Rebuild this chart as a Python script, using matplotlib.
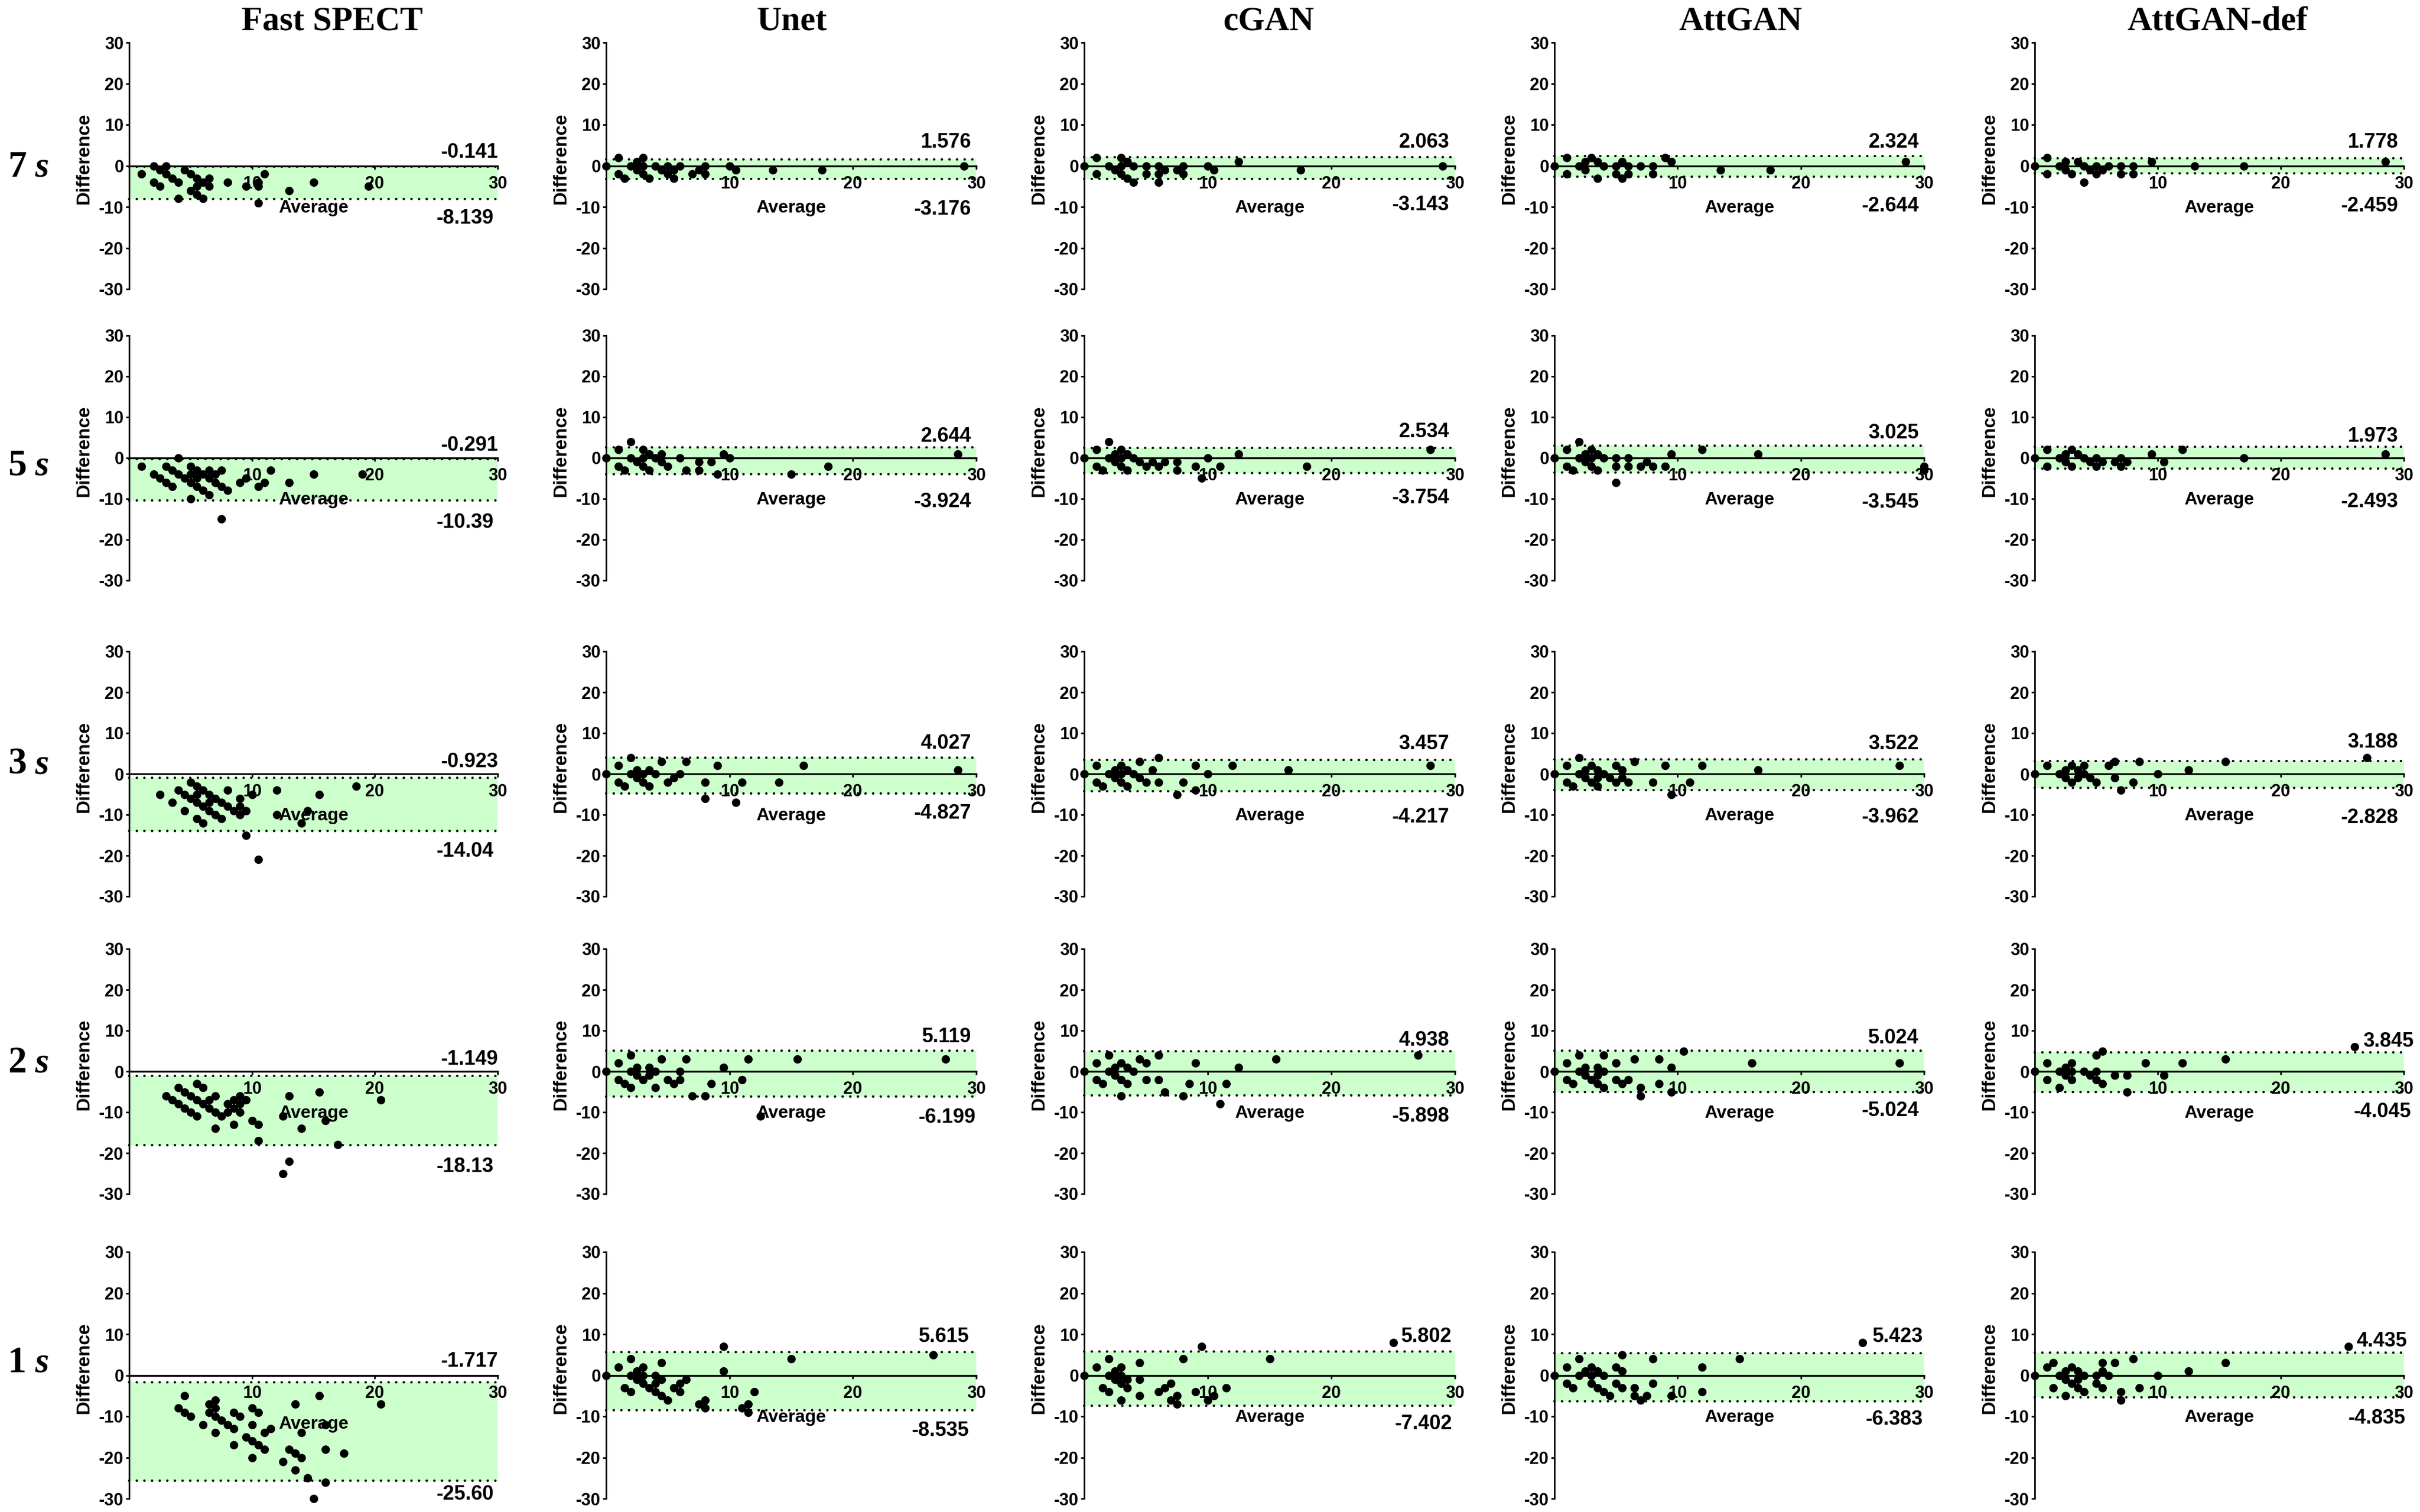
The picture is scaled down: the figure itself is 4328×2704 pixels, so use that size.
import matplotlib
matplotlib.use("Agg")
import matplotlib.pyplot as plt

plt.rcParams['font.family'] = ['Liberation Sans', 'DejaVu Sans']

methods = ['Fast SPECT', 'Unet', 'cGAN', 'AttGAN', 'AttGAN-def']
times = ['7', '5', '3', '2', '1']
x_ticks = [10, 20, 30]
y_ticks = [30, 20, 10, 0, -10, -20, -30]

# ---- limits of agreement as printed ----
upper_text = [['-0.141', '1.576', '2.063', '2.324', '1.778'],
              ['-0.291', '2.644', '2.534', '3.025', '1.973'],
              ['-0.923', '4.027', '3.457', '3.522', '3.188'],
              ['-1.149', '5.119', '4.938', '5.024', '3.845'],
              ['-1.717', '5.615', '5.802', '5.423', '4.435']]
lower_text = [['-8.139', '-3.176', '-3.143', '-2.644', '-2.459'],
              ['-10.39', '-3.924', '-3.754', '-3.545', '-2.493'],
              ['-14.04', '-4.827', '-4.217', '-3.962', '-2.828'],
              ['-18.13', '-6.199', '-5.898', '-5.024', '-4.045'],
              ['-25.60', '-8.535', '-7.402', '-6.383', '-4.835']]
# ---- band edges as drawn ----
band_top = [[-0.141, 1.576, 2.063, 2.324, 1.9],
            [-0.291, 2.644, 2.534, 3.025, 2.7],
            [-0.923, 4.027, 3.457, 3.522, 3.2],
            [-1.149, 5.119, 4.938, 5.024, 4.6],
            [-1.717, 5.615, 5.802, 5.423, 5.45]]
band_bottom = [[-8.139, -3.176, -3.143, -2.644, -1.85],
               [-10.39, -3.924, -3.754, -3.545, -2.56],
               [-14.04, -4.827, -4.217, -3.962, -3.4],
               [-18.13, -6.199, -5.898, -5.024, -5.0],
               [-25.60, -8.535, -7.402, -6.383, -5.4]]

# ---- Fast SPECT ----
fast_7_x = [1,2,2,2.5,2.5,3,3,3.5,4,4,4.5,5,5,5.5,5.5,5.5,6,6,6.5,6.5,8,9.5,10.5,10.5,10.5,11,13,15,19.5]
fast_7_y = [-2,0,-4,-1,-5,0,-2,-3,-4,-8,-1,-2,-6,-3,-5,-7,-4,-8,-3,-5,-4,-5,-5,-9,-4,-2,-6,-4,-5]
fast_5_x = [1,2,2.5,3,3,3.5,3.5,4,4,4.5,5,5,5,5,5.5,5.5,5.5,6,6,6.5,6.5,6.5,7,7,7.5,7.5,7.5,8,9,9.5,10.5,11,11.5,13,15,19]
fast_5_y = [-2,-4,-5,-2,-6,-3,-7,0,-4,-5,-2,-4,-6,-10,-3,-5,-7,-4,-8,-3,-5,-9,-4,-6,-3,-7,-15,-8,-6,-5,-7,-6,-3,-6,-4,-4]
fast_3_x = [2.5,3.5,4,4.5,4.5,5,5,5.5,5.5,5.5,5.5,6,6,6,6.5,6.5,6.5,7,7,7.5,7.5,8,8,8.5,9,9,9,9.5,9.5,10,10.5,12,12,14,14.5,15.5,18.5]
fast_3_y = [-5,-7,-4,-5,-9,-2,-6,-3,-5,-7,-11,-4,-8,-12,-5,-7,-9,-6,-10,-7,-11,-4,-8,-9,-6,-8,-10,-9,-15,-5,-21,-4,-10,-12,-9,-5,-3]
fast_2_x = [3,3.5,4,4,4.5,4.5,5,5,5.5,5.5,5.5,6,6,6.5,6.5,7,7,7,7.5,8,8,8.5,8.5,8.5,9,9,9,9.5,10,10.5,10.5,12.5,12.5,13,13,14,15.5,16,17,20.5]
fast_2_y = [-6,-7,-4,-8,-5,-9,-6,-10,-3,-7,-11,-4,-8,-7,-9,-6,-10,-14,-11,-8,-10,-7,-9,-13,-6,-8,-10,-7,-12,-13,-17,-11,-25,-6,-22,-14,-5,-12,-18,-7]
fast_1_x = [4,4.5,4.5,5,6,6.5,6.5,7,7,7,7,7.5,8,8.5,8.5,8.5,9,9.5,10,10,10,10,10.5,10.5,11,11,11.5,12.5,13,13.5,13.5,13.5,14,14,14.5,15,15.5,16,16,16,17.5,20.5]
fast_1_y = [-8,-5,-9,-10,-12,-7,-9,-6,-8,-10,-14,-11,-12,-9,-13,-17,-10,-15,-8,-12,-16,-20,-9,-17,-14,-18,-13,-21,-18,-7,-19,-23,-14,-20,-25,-30,-5,-12,-18,-26,-19,-7]

# ---- Unet ----
unet_7_x = [0,1,1,1.5,2,2.5,2.5,3,3,3,3.5,4,4.5,5,5,5.5,5.5,6,7,7.5,8,8,10,10.5,13.5,17.5,29]
unet_7_y = [0,2,-2,-3,0,1,-1,2,0,-2,-3,0,-1,0,-2,-1,-3,0,-2,-1,0,-2,0,-1,-1,-1,0]
unet_5_x = [0,1,1,1.5,2,2,2.5,3,3,3,3.5,3.5,4,4.5,4.5,5,6,6.5,7.5,7.5,8.5,9,9.5,10,15,18,28.5]
unet_5_y = [0,2,-2,-3,4,0,-1,2,0,-2,1,-3,0,1,-1,-2,0,-3,-1,-3,-1,-4,1,0,-4,-2,1]
unet_3_x = [0,1,1,1.5,2,2,2.5,2.5,3,3,3.5,3.5,4,4.5,5,5.5,6,6.5,8,8,9,10.5,11,14,16,28.5]
unet_3_y = [0,2,-2,-3,4,0,1,-1,0,-2,1,-3,0,3,-2,-1,0,3,-2,-6,2,-7,-2,-2,2,1]
unet_2_x = [0,1,1,1.5,2,2,2,2.5,2.5,3,3.5,3.5,4,4,4.5,5,5.5,6,6,6.5,7,8,8.5,9.5,11,11.5,12.5,15.5,27.5]
unet_2_y = [0,2,-2,-3,4,0,-4,1,-1,-2,1,-1,0,-4,3,-2,-3,0,-2,3,-6,-6,-3,1,-2,3,-11,3,3]
unet_1_x = [0,1,1.5,2,2,2,2.5,2.5,3,3,3,3.5,4,4,4,4.5,4.5,4.5,5,5.5,6,6,6.5,7.5,8,8,9.5,9.5,11,11.5,11.5,12,15,26.5]
unet_1_y = [0,2,-3,4,0,-4,1,-1,2,0,-2,-3,0,-2,-4,3,-1,-5,-6,-3,-2,-4,-1,-7,-6,-8,7,1,-8,-7,-9,-4,4,5]

# ---- cGAN ----
cgan_7_x = [0,1,1,2,2.5,3,3,3,3.5,3.5,4,4,5,5,6,6,6,6.5,7.5,8,8,10,10.5,12.5,17.5,29]
cgan_7_y = [0,2,-2,0,-1,2,0,-2,1,-3,0,-4,0,-2,0,-2,-4,-1,-1,0,-2,0,-1,1,-1,0]
cgan_5_x = [0,1,1,1.5,2,2,2.5,2.5,3,3,3,3.5,3.5,4,4.5,5,5.5,6,6.5,7.5,7.5,9,9.5,10,11,12.5,18,28]
cgan_5_y = [0,2,-2,-3,4,0,1,-1,2,0,-2,1,-3,0,-1,-2,-1,-2,-1,-1,-3,-2,-5,0,-2,1,-2,2]
cgan_3_x = [0,1,1,1.5,2,2.5,2.5,3,3,3,3.5,3.5,4,4.5,4.5,5,5.5,6,6,7.5,8,9,9,10,12,16.5,28]
cgan_3_y = [0,2,-2,-3,0,1,-1,2,0,-2,1,-3,0,3,-1,-2,1,4,-2,-5,-2,2,-4,0,2,1,2]
cgan_2_x = [0,1,1,1.5,2,2,2.5,2.5,3,3,3,3.5,3.5,4,4.5,5,5,6,6,6.5,8,8.5,9,11,11.5,12.5,15.5,27]
cgan_2_y = [0,2,-2,-3,4,0,1,-1,2,-2,-6,1,-3,0,3,2,-2,4,-2,-5,-6,-3,2,-8,-3,1,3,4]
cgan_1_x = [0,1,1.5,2,2,2,2.5,2.5,3,3,3,3,3.5,3.5,4.5,4.5,4.5,6,6.5,7,7,7.5,7.5,8,9,9.5,10,10.5,11.5,15,25]
cgan_1_y = [0,2,-3,4,0,-4,1,-1,2,0,-2,-6,-1,-3,3,-1,-5,-4,-3,-2,-6,-5,-7,4,-4,7,-6,-5,-3,4,8]

# ---- AttGAN ----
att_7_x = [0,1,1,2,2.5,2.5,3,3.5,3.5,4,5,5,5.5,5.5,6,6,7,8,8,9,9.5,13.5,17.5,28.5]
att_7_y = [0,2,-2,0,1,-1,2,1,-3,0,0,-2,1,-3,0,-2,0,0,-2,2,1,-1,-1,1]
att_5_x = [0,1,1,1.5,2,2,2.5,2.5,3,3,3,3.5,3.5,4,5,5,5,6,6,7,7.5,8,9,9.5,12,16.5,30,30]
att_5_y = [0,2,-2,-3,4,0,1,-1,2,0,-2,1,-3,0,0,-2,-6,0,-2,-2,-1,-2,-2,1,2,1,-2,-3]
att_3_x = [0,1,1,1.5,2,2,2.5,2.5,3,3,3.5,3.5,3.5,4,4.5,5,5,5.5,5.5,6,6.5,8,9,9.5,11,12,16.5,28]
att_3_y = [0,2,-2,-3,4,0,1,-1,2,-2,1,-1,-3,0,-1,2,-2,1,-1,-2,3,-2,2,-5,-2,2,1,2]
att_2_x = [0,1,1,1.5,2,2,2.5,2.5,3,3.5,3.5,3.5,4,4,4,5,5,5.5,6,6.5,7,7,8.5,8.5,9.5,9.5,10.5,16,28]
att_2_y = [0,2,-2,-3,4,0,1,-1,-2,1,-1,-3,4,0,-4,2,-2,-3,-2,3,-4,-6,3,-3,1,-5,5,2,2]
att_1_x = [0,1,1,1.5,2,2,2.5,3,3,3,3.5,3.5,4,4,4.5,5,5,5.5,5.5,5.5,6.5,6.5,7,7.5,8,8,9.5,12,12,15,25]
att_1_y = [0,2,-2,-3,4,0,1,2,0,-2,1,-3,0,-4,-5,2,-2,5,1,-3,-3,-5,-6,-5,4,-2,-5,2,-4,4,8]

# ---- AttGAN-def ----
def_7_x = [0,1,1,2,2.5,2.5,3,3.5,4,4,4.5,5,5,5.5,6,7,7,8,8,9.5,13,17,28.5]
def_7_y = [0,2,-2,0,1,-1,-2,1,0,-4,-1,0,-2,-1,0,0,-2,0,-2,1,0,0,1]
def_5_x = [0,1,1,2,2.5,2.5,3,3,3.5,4,4.5,5,5,5.5,6.5,7,7,7.5,9.5,10.5,12,17,28.5]
def_5_y = [0,2,-2,0,1,-1,2,-2,1,0,-1,0,-2,-1,-1,0,-2,-1,1,-1,2,0,1]
def_3_x = [0,1,2,2.5,2.5,3,3,3.5,3.5,4,4,4.5,5,6,6.5,6.5,7,8,8.5,10,12.5,15.5,27]
def_3_y = [0,2,0,1,-1,2,-2,1,-1,2,0,-1,-2,2,3,-1,-4,-2,3,0,1,3,4]
def_2_x = [0,1,1,2,2,2.5,2.5,3,3,3,4,4.5,5,5,5,5.5,5.5,6.5,7.5,7.5,9,10.5,12,15.5,26]
def_2_y = [0,2,-2,0,-4,1,-1,2,0,-2,0,-1,4,0,-2,5,-3,-1,-1,-5,2,-1,2,3,6]
def_1_x = [0,1,1.5,1.5,2,2.5,2.5,2.5,3,3,3.5,3.5,3.5,4,4,5,5,5.5,5.5,5.5,6,6.5,7,7,8,8.5,10,12.5,15.5,25.5]
def_1_y = [0,2,3,-3,0,1,-1,-5,2,-2,1,-1,-3,0,-4,0,-2,3,1,-3,0,3,-4,-6,4,-3,0,1,3,7]

series_x = [[fast_7_x, unet_7_x, cgan_7_x, att_7_x, def_7_x],
            [fast_5_x, unet_5_x, cgan_5_x, att_5_x, def_5_x],
            [fast_3_x, unet_3_x, cgan_3_x, att_3_x, def_3_x],
            [fast_2_x, unet_2_x, cgan_2_x, att_2_x, def_2_x],
            [fast_1_x, unet_1_x, cgan_1_x, att_1_x, def_1_x]]
series_y = [[fast_7_y, unet_7_y, cgan_7_y, att_7_y, def_7_y],
            [fast_5_y, unet_5_y, cgan_5_y, att_5_y, def_5_y],
            [fast_3_y, unet_3_y, cgan_3_y, att_3_y, def_3_y],
            [fast_2_y, unet_2_y, cgan_2_y, att_2_y, def_2_y],
            [fast_1_y, unet_1_y, cgan_1_y, att_1_y, def_1_y]]

# ---- layout, in image pixels ----
W, H = 4328, 2704
col_left = [231, 1084, 1939, 2780, 3639]
col_right = [890, 1746, 2602, 3441, 4299]
row_top = [76, 600, 1165, 1697, 2239]
row_bottom = [517, 1038, 1603, 2135, 2680]
title_cx = [594, 1416, 2269, 3113, 3966]
row_label_cy = [296, 829, 1363, 1898, 2434]
up_right = [[891, 1737, 2592, 3432, 4289], [891, 1737, 2592, 3432, 4289], [891, 1737, 2592, 3432, 4289],
            [891, 1737, 2592, 3432, 4317], [891, 1733, 2597, 3439, 4305]]
lo_right = [[883, 1737, 2592, 3432, 4289], [883, 1737, 2592, 3432, 4289], [883, 1737, 2592, 3432, 4289],
            [883, 1745, 2592, 3432, 4312], [883, 1733, 2597, 3439, 4302]]
up_cy = [[269, 252, 252, 251, 251], [793, 777, 770, 771, 777], [1360, 1326, 1328, 1328, 1324],
         [1891, 1852, 1857, 1854, 1860], [2432, 2387, 2387, 2388, 2395]]
lo_cy = [[388, 372, 364, 365, 366], [931, 895, 887, 896, 895], [1520, 1452, 1458, 1458, 1459],
         [2084, 1995, 1993, 1984, 1985], [2670, 2556, 2543, 2535, 2533]]

BAND = '#CCFFCC'
fig = plt.figure(figsize=(W / 100, H / 100), dpi=100, facecolor='white')


def put(x, y, s, **kw):
    return fig.text(x / W, 1 - y / H, s, **kw)


for c, name in enumerate(methods):
    put(title_cx[c], 38, name, family=['Liberation Serif'], fontweight='bold', fontsize=44,
        ha='center', va='center')

for r, t in enumerate(times):
    put(14, row_label_cy[r] + 20, t, family=['Liberation Serif'], fontweight='bold', fontsize=48,
        ha='left', va='baseline')
    put(62, row_label_cy[r] + 20, 's', family=['Liberation Serif'], fontweight='bold', fontstyle='italic',
        fontsize=46, ha='left', va='baseline')
    for c in range(len(methods)):
        ax = fig.add_axes([col_left[c] / W, 1 - row_bottom[r] / H,
                           (col_right[c] - col_left[c]) / W, (row_bottom[r] - row_top[r]) / H])
        ax.patch.set_visible(False)
        ax.set_xlim(0, 30)
        ax.set_ylim(-30, 30)
        ax.axhspan(band_bottom[r][c], band_top[r][c], color=BAND, lw=0, zorder=0)
        for lim in (band_top[r][c], band_bottom[r][c]):
            ax.plot([0, 30], [lim, lim], color='black', lw=3.2, dash_capstyle='round',
                    linestyle=(0, (0.01, 3.06)), zorder=2, clip_on=False)
        ax.scatter(series_x[r][c], series_y[r][c], s=118, color='black', lw=0, zorder=5, clip_on=False)
        for side in ('top', 'right'):
            ax.spines[side].set_visible(False)
        ax.spines['bottom'].set_position(('data', 0))
        ax.spines['bottom'].set_linewidth(2.4)
        ax.spines['bottom'].set_zorder(3)
        ax.spines['left'].set_linewidth(2.0)
        ax.set_xticks(x_ticks)
        ax.set_yticks(y_ticks)
        ax.set_yticklabels([str(v) for v in y_ticks])
        ax.tick_params(axis='x', length=4.5, width=2, pad=8, labelsize=22)
        ax.tick_params(axis='y', length=4.5, width=2, pad=2.5, labelsize=22)
        for lab in ax.get_xticklabels() + ax.get_yticklabels():
            lab.set_fontweight('bold')
        avg_y = -11.9 if (r == 4 and c == 0) else -10.3
        ax.text(15, avg_y, 'Average', fontsize=23, fontweight='bold', ha='center', va='center', zorder=4)
        zero_px = (row_top[r] + row_bottom[r]) / 2
        put(col_left[c] - 81, zero_px - 13, 'Difference', fontsize=24, fontweight='bold',
            rotation=90, ha='center', va='center')
        put(up_right[r][c], up_cy[r][c] + 3, upper_text[r][c], fontsize=26, fontweight='bold', ha='right', va='center')
        put(lo_right[r][c], lo_cy[r][c] + 3, lower_text[r][c], fontsize=26, fontweight='bold', ha='right', va='center')

fig.savefig('out.png', dpi=100, facecolor='white')
